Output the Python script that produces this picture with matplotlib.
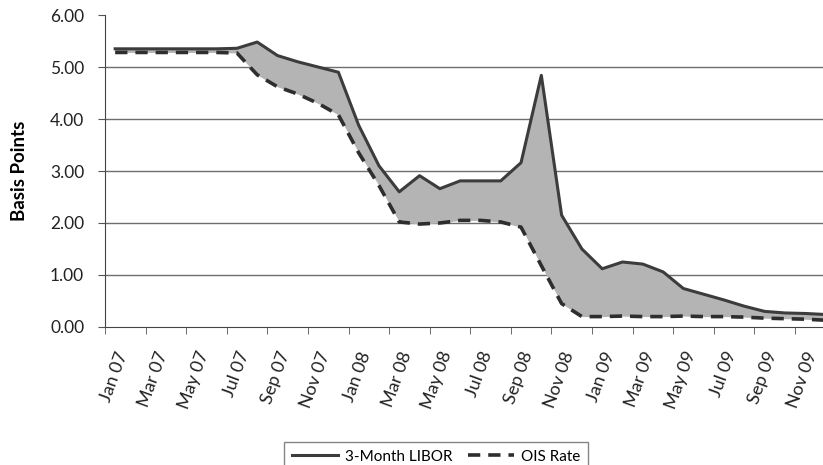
import numpy as np
import matplotlib.pyplot as plt

plt.rcParams['font.family'] = ['Lato', 'DejaVu Sans']

months = ['Jan 07', 'Feb 07', 'Mar 07', 'Apr 07', 'May 07', 'Jun 07', 'Jul 07', 'Aug 07',
          'Sep 07', 'Oct 07', 'Nov 07', 'Dec 07', 'Jan 08', 'Feb 08', 'Mar 08', 'Apr 08',
          'May 08', 'Jun 08', 'Jul 08', 'Aug 08', 'Sep 08', 'Oct 08', 'Nov 08', 'Dec 08',
          'Jan 09', 'Feb 09', 'Mar 09', 'Apr 09', 'May 09', 'Jun 09', 'Jul 09', 'Aug 09',
          'Sep 09', 'Oct 09', 'Nov 09', 'Dec 09']

libor = [5.35, 5.35, 5.35, 5.35, 5.35, 5.35, 5.36, 5.48, 5.22, 5.10, 5.00, 4.90,
         3.88, 3.10, 2.60, 2.91, 2.66, 2.81, 2.81, 2.81, 3.16, 4.84, 2.15, 1.50,
         1.12, 1.25, 1.21, 1.06, 0.74, 0.63, 0.52, 0.40, 0.30, 0.27, 0.26, 0.24]

ois = [5.28, 5.28, 5.28, 5.28, 5.28, 5.28, 5.27, 4.85, 4.62, 4.48, 4.30, 4.08,
       3.35, 2.72, 2.02, 1.98, 2.00, 2.05, 2.05, 2.02, 1.92, 1.18, 0.45, 0.20,
       0.20, 0.21, 0.20, 0.20, 0.21, 0.20, 0.20, 0.19, 0.17, 0.16, 0.15, 0.13]

x = np.arange(len(months))

fig = plt.figure(figsize=(8.23, 4.65), dpi=100)
ax = fig.add_axes([0.1276, 0.2968, 0.8724, 0.6709])

for v in range(1, 6):
    ax.axhline(v, color='#6e6e6e', lw=1.0, zorder=1)

ax.fill_between(x, ois, libor, color='#b4b4b4', lw=0, zorder=2)
ax.plot(x, libor, color='#3c3c3c', lw=2.2, zorder=3, label='3-Month LIBOR')
ax.plot(x, ois, color='#2e2e2e', lw=2.6, ls=(0, (3.4, 2.2)), zorder=4, label='OIS Rate')

ax.set_xlim(-0.5, 34.88)
ax.set_ylim(0, 6)
ax.set_yticks(np.arange(0, 7, 1))
ax.set_yticklabels(['%.2f' % v for v in range(7)], fontsize=12.5, color='#222222')
ax.set_ylabel('Basis Points', fontsize=13.5, fontweight='bold', labelpad=16)

ax.set_xticks(x[::2])
ax.set_xticklabels(months[::2], rotation=70, ha='right', va='top',
                   rotation_mode='anchor', fontsize=13, color='#222222')
ax.set_xticks(np.arange(-0.5, 35, 2), minor=True)
ax.tick_params(axis='x', which='major', length=0, pad=16)
ax.tick_params(axis='x', which='minor', length=5, color='#555555')
ax.tick_params(axis='y', length=5, color='#555555', pad=10)

for s in ['top', 'right']:
    ax.spines[s].set_visible(False)
ax.spines['left'].set_color('#444444')
ax.spines['bottom'].set_color('#444444')

leg = fig.legend(loc='upper center', bbox_to_anchor=(0.53, 0.066), ncol=2,
                 fontsize=11, frameon=True, fancybox=False, handlelength=3.0,
                 handletextpad=0.5, columnspacing=1.0, borderpad=0.5)
leg.get_frame().set_edgecolor('#666666')
leg.get_frame().set_linewidth(1.0)

fig.savefig('out.png', dpi=100)
